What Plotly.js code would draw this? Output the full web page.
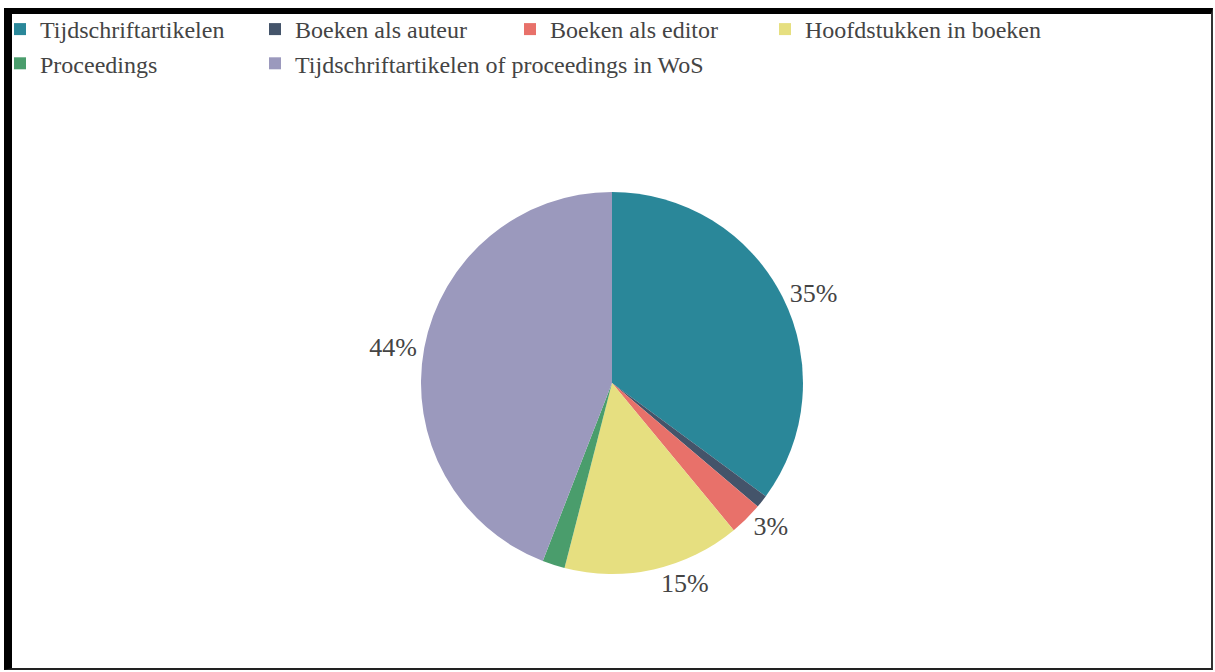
<!DOCTYPE html>
<html>
<head>
<meta charset="utf-8">
<script src="https://cdn.plot.ly/plotly-3.0.1.min.js"></script>
</head>
<body style="margin:0">
<div id="chart" style="width:1215px;height:672px"></div>
<div id="frame" style="position:absolute;left:4px;top:8px;width:1199px;height:654px;border-top:6px solid #000;border-left:8px solid #000;border-right:2px solid #333;border-bottom:2px solid #222;pointer-events:none"></div>
<script>
// Data (share of publications, %)
const categories = [
  'Tijdschriftartikelen',
  'Boeken als auteur',
  'Boeken als editor',
  'Hoofdstukken in boeken',
  'Proceedings',
  'Tijdschriftartikelen of proceedings in WoS'
];
const values = [35.1, 1.1, 2.8, 15.0, 1.9, 44.1];
const sliceColors = ['#2a8799', '#44546a', '#e8716a', '#e6df80', '#4a9d6c', '#9b99bd'];
// labels only shown for the larger slices, as in the reference
const showLabel = [true, false, true, true, false, true];

const W = 1215, H = 672;
const cx = 612, cy = 383, r = 191;

Plotly.newPlot('chart', [{
  type: 'pie',
  labels: categories,
  values: values,
  sort: false,
  direction: 'clockwise',
  rotation: 0,
  marker: { colors: sliceColors },
  texttemplate: showLabel.map(s => s ? '%{percent:.0%}' : ''),
  textposition: 'outside',
  textfont: { family: 'Liberation Serif', size: 26 },
  domain: {
    x: [(cx - r) / W, (cx + r) / W],
    y: [(H - cy - r) / H, (H - cy + r) / H]
  }
}], {
  width: W,
  height: H,
  margin: { l: 0, r: 0, t: 0, b: 0 },
  font: { family: 'Liberation Serif', size: 24 },
  modebar: { bgcolor: 'rgba(0,0,0,0)', color: 'rgba(0,0,0,0)', activecolor: 'rgba(0,0,0,0)' },
  legend: {
    font: { family: 'Liberation Serif', size: 24 },
    orientation: 'h',
    x: 0,
    xanchor: 'left',
    y: 1 - 7 / H,
    yanchor: 'top',
    bgcolor: 'rgba(0,0,0,0)',
    entrywidth: 210,
    entrywidthmode: 'pixels'
  }
}, { displaylogo: false }).then(function () {
  // let the last legend column show its full text (legend clip is only as wide as the fixed entries)
  document.querySelectorAll('#chart .legend [clip-path]').forEach(function (el) {
    el.removeAttribute('clip-path');
  });
});
</script>
</body>
</html>
